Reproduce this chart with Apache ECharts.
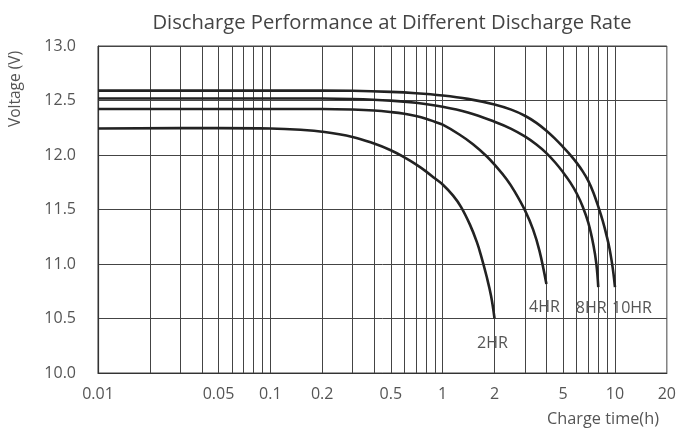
<!DOCTYPE html>
<html>
<head>
<meta charset="utf-8">
<script src="https://cdn.jsdelivr.net/npm/echarts@6/dist/echarts.min.js"></script>
<style>
html,body{margin:0;padding:0;background:#fff;}
#chart{width:679px;height:428px;}
</style>
</head>
<body>
<div id="chart"></div>
<script>
// ---- data ----
const seriesNames = ['2HR', '4HR', '8HR', '10HR'];
const hr2 = [[0.01,12.243],[0.05,12.247],[0.1,12.243],[0.15,12.231],[0.2,12.214],[0.3,12.166],[0.4,12.105],[0.5,12.044],[0.6,11.978],[0.7,11.914],[0.8,11.850],[0.9,11.786],[1,11.729],[1.15,11.627],[1.28,11.522],[1.44,11.361],[1.58,11.201],[1.67,11.077],[1.8,10.885],[1.91,10.706],[2,10.5]];
const hr4 = [[0.01,12.422],[0.1,12.422],[0.2,12.422],[0.3,12.417],[0.4,12.408],[0.5,12.394],[0.6,12.378],[0.7,12.357],[0.8,12.333],[0.9,12.305],[1,12.278],[1.25,12.188],[1.5,12.099],[1.8,11.989],[2,11.911],[2.35,11.778],[2.62,11.664],[3,11.494],[3.35,11.315],[3.65,11.118],[4,10.816]];
const hr8 = [[0.01,12.518],[0.1,12.518],[0.2,12.518],[0.3,12.514],[0.5,12.499],[0.7,12.479],[1,12.443],[1.4,12.390],[2,12.305],[2.5,12.240],[3,12.170],[3.5,12.096],[4,12.017],[4.5,11.931],[5,11.841],[5.5,11.749],[6,11.647],[6.5,11.526],[7,11.379],[7.5,11.173],[7.8,10.999],[8,10.788]];
const hr10 = [[0.01,12.591],[0.1,12.591],[0.2,12.591],[0.3,12.589],[0.5,12.579],[0.7,12.567],[1,12.546],[1.4,12.515],[2,12.464],[2.5,12.416],[3,12.360],[3.5,12.295],[4,12.223],[4.5,12.148],[5,12.073],[5.5,12.002],[6,11.928],[6.5,11.850],[7,11.763],[7.5,11.654],[8,11.526],[8.5,11.393],[9,11.242],[9.3,11.141],[9.6,11.013],[9.8,10.912],[10,10.788]];
const xTickLabels = [0.01, 0.05, 0.1, 0.2, 0.5, 1, 2, 5, 10, 20];
const xGridValues = [0.02,0.03,0.04,0.05,0.06,0.07,0.08,0.09,0.1,0.2,0.3,0.4,0.5,0.6,0.7,0.8,0.9,1,2,3,4,5,6,7,8,9,10];
const yMin = 10, yMax = 13, yStep = 0.5;

const FONT = 'Open Sans';
const lineColor = '#222';
const gridColor = '#444';
const labelStyles = {
  '2HR':  {distance: 17, offset: [-2, 0]},
  '4HR':  {distance: 15, offset: [-2, 0]},
  '8HR':  {distance: 13, offset: [-7, 0]},
  '10HR': {distance: 13, offset: [17, 0]}
};

function makeSeries(name, pts) {
  const data = pts.map((p, i) => {
    if (i === pts.length - 1) {
      return {
        value: p,
        label: Object.assign({
          show: true, position: 'bottom', formatter: name,
          color: '#555', fontSize: 16, fontFamily: FONT
        }, labelStyles[name])
      };
    }
    return p;
  });
  return {
    name, type: 'line', data, smooth: 0.4,
    symbol: 'circle', symbolSize: 0.01, showSymbol: true, z: 5,
    itemStyle: {color: 'rgba(0,0,0,0)'},
    lineStyle: {color: lineColor, width: 2.6}
  };
}

const chart = echarts.init(document.getElementById('chart'));
chart.setOption({
  animation: false,
  backgroundColor: '#fff',
  title: {
    text: 'Discharge Performance at Different Discharge Rate',
    left: 387, top: 8, textAlign: 'center',
    textStyle: {color: '#444', fontSize: 20.2, fontWeight: 'normal', fontFamily: FONT}
  },
  grid: {left: 98, right: 12, top: 46, bottom: 55, show: true, borderColor: gridColor, borderWidth: 1, backgroundColor: 'transparent'},
  xAxis: {
    type: 'log', logBase: 10, min: 0.01, max: 20,
    axisLine: {show: true, lineStyle: {color: '#333', width: 1.2}},
    axisTick: {show: false},
    splitLine: {show: false},
    minorSplitLine: {show: false},
    axisLabel: {
      customValues: xTickLabels,
      color: '#555', fontSize: 16, fontFamily: FONT, margin: 13,
      showMinLabel: true, showMaxLabel: true,
      formatter: v => String(+v.toPrecision(6))
    }
  },
  yAxis: {
    type: 'value', min: yMin, max: yMax, interval: yStep,
    axisLine: {show: true, lineStyle: {color: '#333', width: 1.2}},
    axisTick: {show: false},
    splitLine: {show: true, lineStyle: {color: gridColor, width: 1}},
    axisLabel: {color: '#555', fontSize: 16, fontFamily: FONT, margin: 22, formatter: v => v.toFixed(1)}
  },
  graphic: [
    {type: 'text', x: 16, y: 89, rotation: Math.PI / 2,
     style: {text: 'Voltage (V)', fill: '#555', fontSize: 15.5, fontFamily: FONT, align: 'center', verticalAlign: 'middle'}},
    {type: 'text', x: 603, y: 419,
     style: {text: 'Charge time(h)', fill: '#555', fontSize: 16.3, fontFamily: FONT, align: 'center', verticalAlign: 'middle'}}
  ],
  series: [
    {
      name: 'gridlines', type: 'line', data: [[0.01, 10]], symbol: 'none', showSymbol: false,
      lineStyle: {width: 0}, z: 1, silent: true,
      markLine: {
        silent: true, symbol: ['none', 'none'], label: {show: false},
        lineStyle: {color: gridColor, width: 1, type: 'solid'},
        emphasis: {disabled: true},
        data: xGridValues.map(v => ({xAxis: v}))
      }
    },
    makeSeries('2HR', hr2),
    makeSeries('4HR', hr4),
    makeSeries('8HR', hr8),
    makeSeries('10HR', hr10)
  ]
});
</script>
</body>
</html>
